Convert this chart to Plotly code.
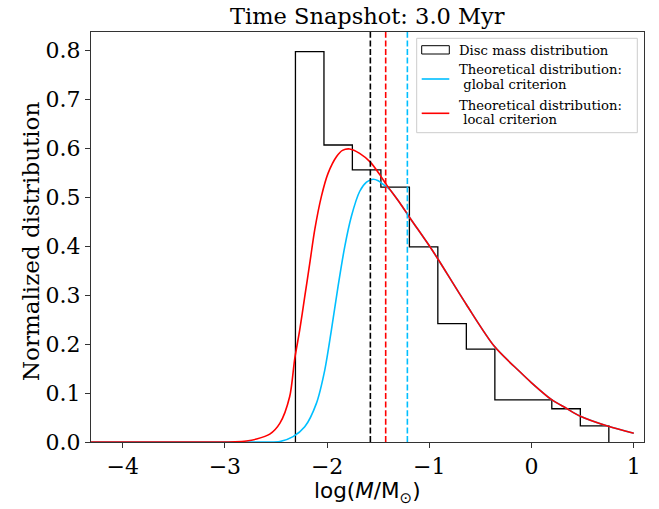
import plotly.graph_objects as go

# ---- data ----
bin_edges = [-2.310, -2.031, -1.753, -1.474, -1.195, -0.917, -0.638, -0.359,
             -0.080, 0.198, 0.477, 0.756]
bin_heights = [0.798, 0.607, 0.556, 0.521, 0.399, 0.242, 0.190, 0.086, 0.086,
               0.068, 0.033]

local_x = [-4.5, -3.3, -2.9, -2.79, -2.69, -2.561, -2.463, -2.366, -2.317, -2.268,
           -2.219, -2.170, -2.121, -2.056, -1.991, -1.909, -1.850, -1.779, -1.682,
           -1.577, -1.477, -1.420, -1.290, -1.193, -0.997, -0.916, -0.638,
           -0.362, -0.117, 0.0, 0.193, 0.339, 0.472, 0.750, 1.0]
local_y = [0.0, 0.0, 0.0005, 0.002, 0.006, 0.016, 0.038, 0.093, 0.170, 0.229,
           0.297, 0.365, 0.434, 0.502, 0.549, 0.583, 0.596, 0.599, 0.590,
           0.572, 0.544, 0.526, 0.489, 0.459, 0.400, 0.374, 0.281,
           0.195, 0.144, 0.121, 0.087, 0.069, 0.053, 0.032, 0.018]

global_x = [-4.5, -3.0, -2.6, -2.463, -2.333, -2.219, -2.105, -2.023, -1.958,
            -1.893, -1.828, -1.763, -1.682, -1.615, -1.551, -1.500, -1.454, -1.388,
            -1.290, -1.193, -0.997, -0.916, -0.638, -0.362, -0.117, 0.0, 0.193,
            0.339, 0.472, 0.750, 1.0]
global_y = [0.0, 0.0, 0.0, 0.001, 0.011, 0.031, 0.079, 0.147, 0.229,
            0.318, 0.399, 0.461, 0.512, 0.531, 0.537, 0.534, 0.527, 0.516,
            0.489, 0.459, 0.400, 0.374, 0.281, 0.195, 0.144, 0.121, 0.087,
            0.069, 0.053, 0.032, 0.018]

vline_x = [-1.577, -1.427, -1.215]
vline_colors = ["black", "red", "deepskyblue"]

x_ticks = [-4, -3, -2, -1, 0, 1]
y_ticks = [0.0, 0.1, 0.2, 0.3, 0.4, 0.5, 0.6, 0.7, 0.8]
x_range = [-4.31, 1.10]
y_range = [0.0, 0.838]

title = "Time Snapshot: 3.0 Myr"
legend_labels = ["Disc mass distribution",
                 ["Theoretical distribution:", "\u00a0global criterion"],
                 ["Theoretical distribution:", "\u00a0local criterion"]]

SERIF = "DejaVu Serif"

# ---- figure ----
fig = go.Figure()

# histogram as step outline
hx = [bin_edges[0]] + list(bin_edges) + [bin_edges[-1]]
hy = [0.0] + list(bin_heights) + [bin_heights[-1], 0.0]
fig.add_trace(go.Scatter(x=hx, y=hy, mode="lines", line_shape="hv",
                         line=dict(color="black", width=1.3),
                         showlegend=False, hoverinfo="skip"))

fig.add_trace(go.Scatter(x=global_x, y=global_y, mode="lines",
                         line=dict(color="deepskyblue", width=1.6, shape="spline",
                                   smoothing=0.8),
                         showlegend=False))
fig.add_trace(go.Scatter(x=local_x, y=local_y, mode="lines",
                         line=dict(color="red", width=1.6, shape="spline",
                                   smoothing=0.8),
                         showlegend=False))

for vx, vc in zip(vline_x, vline_colors):
    fig.add_vline(x=vx, line=dict(color=vc, width=1.6, dash="6px,2.6px"))

# plot area in pixels
L, R, T, B = 91, 644, 32, 442
W, H = 659, 509


def px(xp):
    return (xp - L) / (R - L)


def py(yp):
    return (B - yp) / (B - T)


# custom legend
shapes = [
    dict(type="rect", xref="paper", yref="paper",
         x0=px(416.7), x1=px(637.3), y0=py(132.7), y1=py(38.3),
         line=dict(color="#cccccc", width=1), fillcolor="rgba(255,255,255,0.8)",
         layer="above"),
    dict(type="rect", xref="paper", yref="paper",
         x0=px(421.7), x1=px(449.3), y0=py(54), y1=py(45.7),
         line=dict(color="black", width=1), fillcolor="white", layer="above"),
    dict(type="line", xref="paper", yref="paper",
         x0=px(421.7), x1=px(449.3), y0=py(79), y1=py(79),
         line=dict(color="deepskyblue", width=1.6), layer="above"),
    dict(type="line", xref="paper", yref="paper",
         x0=px(421.7), x1=px(449.3), y0=py(113.3), y1=py(113.3),
         line=dict(color="red", width=1.6), layer="above"),
]
for s in shapes:
    fig.add_shape(**s)

legend_lines = [(legend_labels[0], 50),
                (legend_labels[1][0], 70), (legend_labels[1][1], 84.5),
                (legend_labels[2][0], 105), (legend_labels[2][1], 119.5)]
for txt, yp in legend_lines:
    fig.add_annotation(text=txt, xref="paper", yref="paper", x=px(458), y=py(yp),
                       xanchor="left", yanchor="middle", showarrow=False,
                       borderpad=0,
                       font=dict(family=SERIF, size=13.2, color="black"))

# axis titles
fig.add_annotation(text="Normalized distribution", xref="paper", yref="paper",
                   x=px(31), y=py(242), textangle=-90, showarrow=False,
                   xanchor="center", yanchor="middle",
                   font=dict(family=SERIF, size=23, color="black"))
fig.add_annotation(text="log(<i>M</i>/M<sub>\u2299</sub>)", xref="paper",
                   yref="paper", x=px(367), y=py(492), showarrow=False,
                   xanchor="center", yanchor="middle", borderpad=0,
                   font=dict(family="DejaVu Sans", size=21.5, color="black"))
fig.add_annotation(text=title, xref="paper", yref="paper", x=0.5, y=py(16),
                   showarrow=False, xanchor="center", yanchor="middle",
                   font=dict(family=SERIF, size=22.5, color="black"))

axis_common = dict(showgrid=False, zeroline=False, showline=True, mirror=True,
                   linecolor="#333333", linewidth=1.1, ticks="outside", ticklen=5,
                   tickwidth=1, tickcolor="#333333",
                   tickfont=dict(family=SERIF, size=22, color="black"))

fig.update_xaxes(range=x_range, tickvals=x_ticks,
                 ticktext=["\u2212" + str(abs(v)) if v < 0 else str(v) for v in x_ticks],
                 **axis_common)
fig.update_yaxes(range=y_range, tickvals=y_ticks,
                 ticktext=[f"{v:.1f}" for v in y_ticks], **axis_common)

fig.update_layout(width=W, height=H, margin=dict(l=L, r=W - R, t=T, b=H - B),
                  plot_bgcolor="white", paper_bgcolor="white", showlegend=False)

fig.write_html("out.html")
